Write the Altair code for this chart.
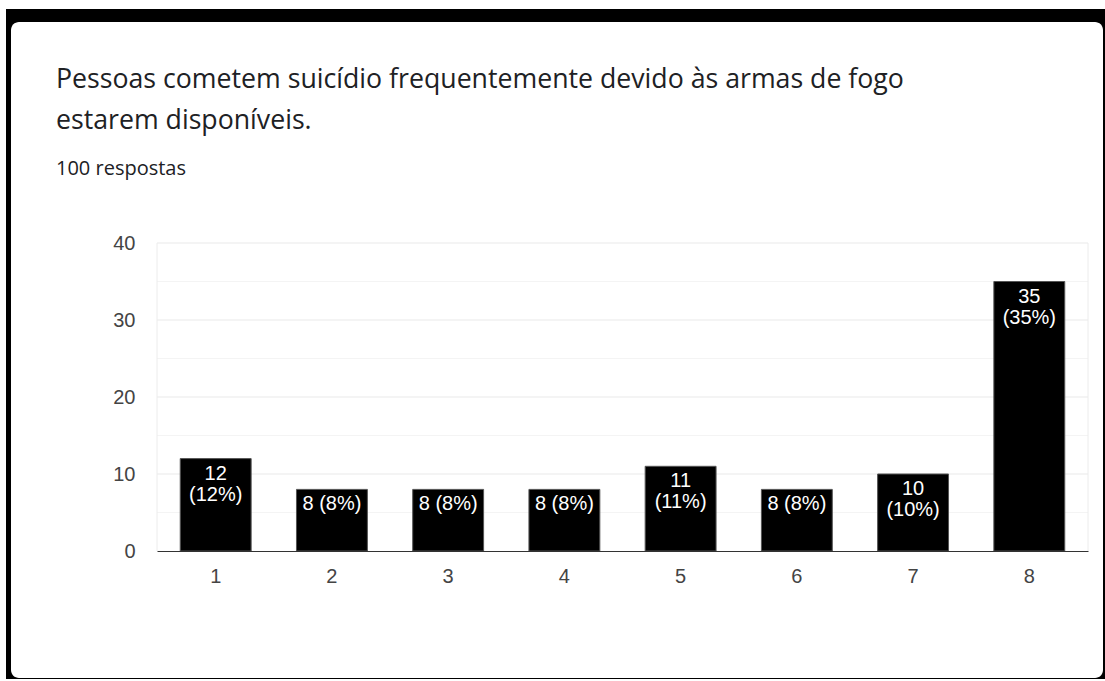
import altair as alt
import pandas as pd

# ---- data ----
title_lines = [
    "Pessoas cometem suicídio frequentemente devido às armas de fogo",
    "estarem disponíveis.",
]
subtitle = "100 respostas"
categories = ["1", "2", "3", "4", "5", "6", "7", "8"]
counts = [12, 8, 8, 8, 11, 8, 10, 35]
total = 100
y_ticks = [0, 10, 20, 30, 40]
grid_values = [5, 10, 15, 20, 25, 30, 35, 40]

labels = []
for c in counts:
    pct = round(c / total * 100)
    labels.append(f"{c}\n({pct}%)" if c >= 10 else f"{c} ({pct}%)")

df = pd.DataFrame({"cat": categories, "count": counts, "label": labels})
grid_df = pd.DataFrame({"count": grid_values})

W, H = 931, 308
PL, PT = 157, 243

yscale = alt.Scale(domain=[0, 40], nice=False)
yaxis = alt.Axis(values=y_ticks, title=None, domain=False, ticks=False, tickSize=0,
                 grid=False, labelPadding=22, labelFont="Liberation Sans",
                 labelFontSize=20, labelColor="#444444", zindex=1)
xscale = alt.Scale(paddingInner=0.39, paddingOuter=0.2)
xaxis = alt.Axis(title=None, labelAngle=0, ticks=False, tickSize=0, domain=True,
                 domainColor="#333333", domainWidth=1, labelPadding=15,
                 labelFont="Liberation Sans", labelFontSize=20, labelColor="#444444",
                 zindex=1)

one = alt.Data(values=[{"a": 1}])

frame = alt.Chart(one).mark_rect(color="black").encode(
    x=alt.value(6 - PL), x2=alt.value(1110 - PL),
    y=alt.value(9 - PT), y2=alt.value(679 - PT))
card = alt.Chart(one).mark_rect(color="white", cornerRadius=8).encode(
    x=alt.value(11 - PL), x2=alt.value(1103 - PL),
    y=alt.value(22 - PT), y2=alt.value(678 - PT))

grid = alt.Chart(grid_df).mark_rule(strokeWidth=1).encode(
    y=alt.Y("count:Q", scale=yscale, axis=yaxis),
    x=alt.value(0), x2=alt.value(W),
    color=alt.condition("datum.count % 10 == 0", alt.value("#e9e9e9"), alt.value("#f4f4f4")),
)
borders = alt.Chart(alt.Data(values=[{"p": 0}, {"p": W}])).mark_rule(
    color="#ececec").encode(
    x=alt.X("p:Q", scale=None, axis=None), y=alt.value(0), y2=alt.value(H))

bars = alt.Chart(df).mark_bar(color="black", stroke="#555555", strokeWidth=1).encode(
    x=alt.X("cat:N", scale=xscale, axis=xaxis, sort=categories),
    y=alt.Y("count:Q", scale=yscale, axis=yaxis),
)
bar_text = alt.Chart(df).mark_text(
    color="white", baseline="top", dy=5, font="Liberation Sans", fontSize=20,
    lineBreak="\n", lineHeight=21).encode(
    x=alt.X("cat:N", scale=xscale, axis=xaxis, sort=categories),
    y=alt.Y("count:Q", scale=yscale, axis=yaxis),
    text="label:N",
)

t1 = alt.Chart(alt.Data(values=[{"t": title_lines[0]}])).mark_text(
    align="left", baseline="alphabetic", font="Open Sans", fontSize=26.7,
    color="#202124").encode(x=alt.value(56 - PL), y=alt.value(88 - PT), text="t:N")
t2 = alt.Chart(alt.Data(values=[{"t": title_lines[1]}])).mark_text(
    align="left", baseline="alphabetic", font="Open Sans", fontSize=26.7,
    color="#202124").encode(x=alt.value(56 - PL), y=alt.value(129 - PT), text="t:N")
t3 = alt.Chart(alt.Data(values=[{"t": subtitle}])).mark_text(
    align="left", baseline="alphabetic", font="Open Sans", fontSize=20,
    color="#202124").encode(x=alt.value(56 - PL), y=alt.value(175 - PT), text="t:N")

chart = alt.layer(frame, card, grid, borders, bars, bar_text, t1, t2, t3).properties(
    width=W, height=H,
    autosize=alt.AutoSizeParams(type="none"),
    padding={"left": PL, "top": PT, "right": 1105 - PL - W, "bottom": 681 - PT - H},
    background="white",
).configure_view(stroke=None)

chart.save("out.html", embed_options={"renderer": "svg", "actions": False})
